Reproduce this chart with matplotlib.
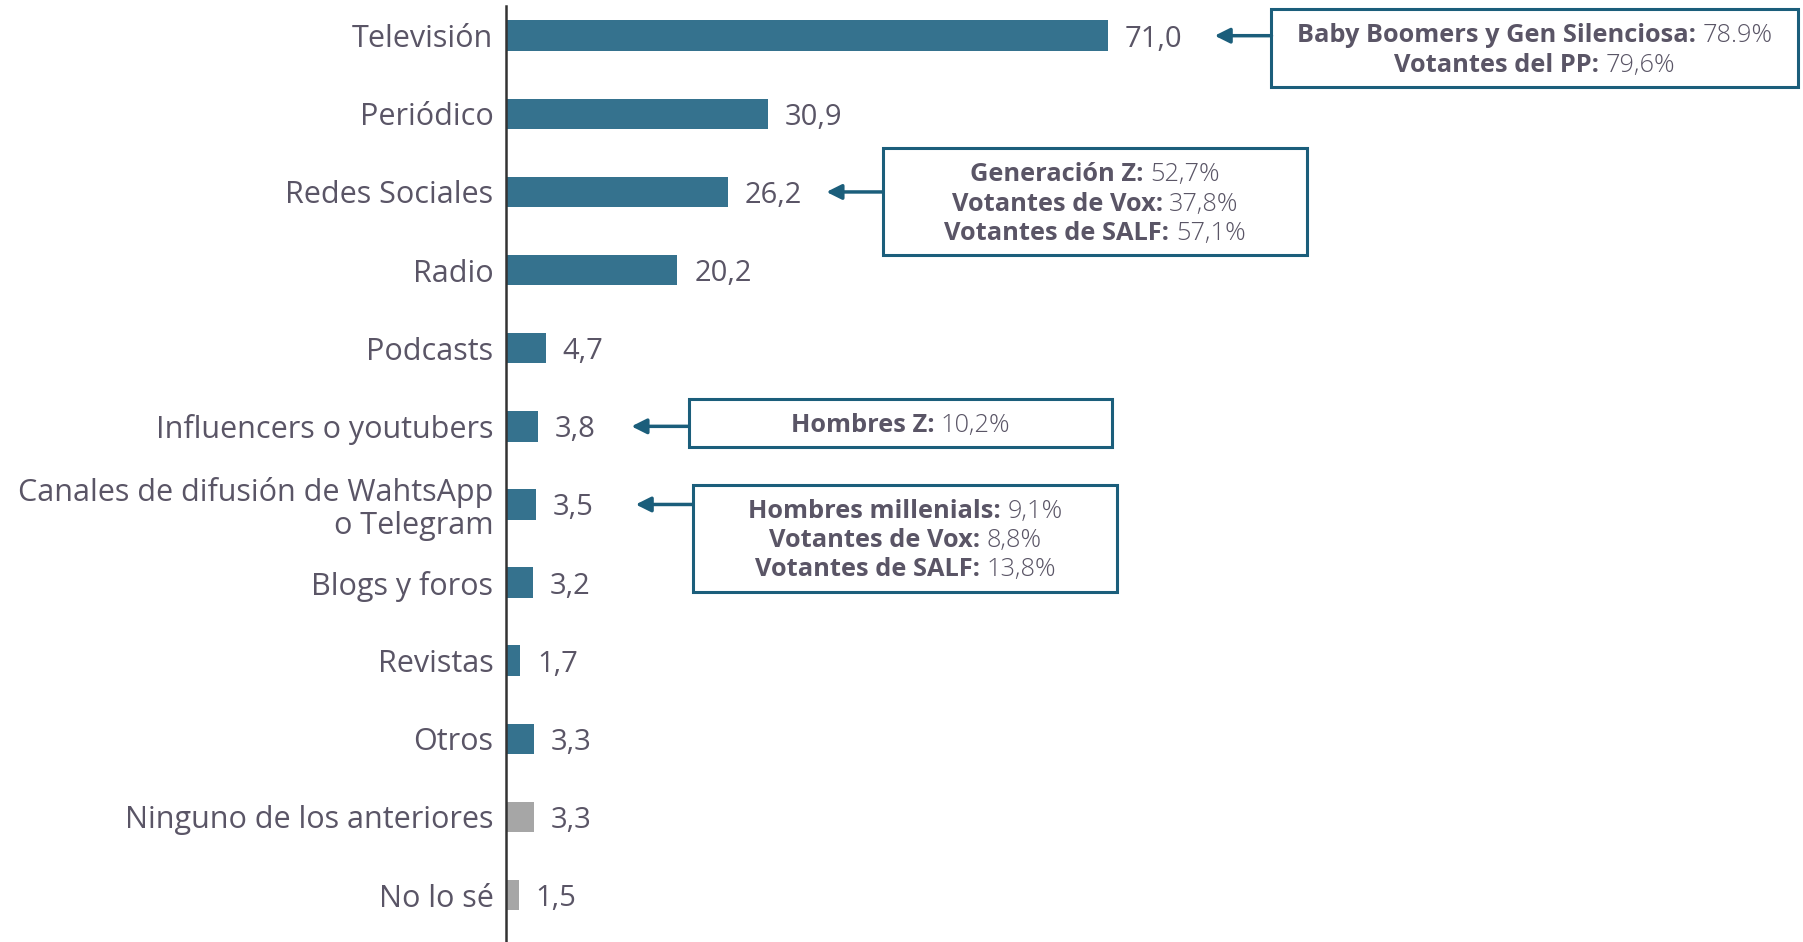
import matplotlib
matplotlib.use("Agg")
import matplotlib.pyplot as plt
from matplotlib.patches import Rectangle
from matplotlib.offsetbox import TextArea, HPacker, VPacker, AnnotationBbox

# ---------------- data ----------------
categories = ["Televisión", "Periódico", "Redes Sociales", "Radio", "Podcasts",
              "Influencers o youtubers", "Canales de difusión de WahtsApp\no Telegram",
              "Blogs y foros", "Revistas", "Otros", "Ninguno de los anteriores", "No lo sé"]
values = [71.0, 30.9, 26.2, 20.2, 4.7, 3.8, 3.5, 3.2, 1.7, 3.3, 3.3, 1.5]
is_grey = [False] * 10 + [True, True]

# callouts: (category index, list of (bold label, value text))
callout_targets = [0, 2, 5, 6]
callout_lines = [
    [("Baby Boomers y Gen Silenciosa:", "78.9%"), ("Votantes del PP:", "79,6%")],
    [("Generación Z:", "52,7%"), ("Votantes de Vox:", "37,8%"), ("Votantes de SALF:", "57,1%")],
    [("Hombres Z:", "10,2%")],
    [("Hombres millenials:", "9,1%"), ("Votantes de Vox:", "8,8%"), ("Votantes de SALF:", "13,8%")],
]

# ---------------- style ----------------
BAR = "#35728E"
GREY = "#A6A6A6"
DARK = "#1B5E7B"
TXT = "#5A5566"
FONT = "Open Sans"

# box geometry in data units: (x0, x1, y_top, y_bottom, arrow_tip_x)
box_geom = [
    (90.3, 152.4, -0.34, 0.66, 83.6),
    (44.5, 94.5, 1.44, 2.81, 37.8),
    (21.6, 71.5, 4.65, 5.27, 14.8),
    (22.1, 72.1, 5.75, 7.12, 15.3),
]

fig = plt.figure(figsize=(18.03, 9.42), dpi=100)
ax = fig.add_axes([506 / 1803, 0.0, 1 - 506 / 1803, 1 - 6 / 942])

ypos = list(range(len(categories)))
colors = [GREY if g else BAR for g in is_grey]
ax.barh(ypos, values, height=0.39, color=colors, zorder=2)

ax.set_xlim(0, 153)
ax.set_ylim(11.6, -0.38)
ax.set_yticks(ypos)
ax.set_yticklabels(categories, fontsize=22, color=TXT, family=FONT,
                   linespacing=1.12, va="center_baseline")
ax.tick_params(axis="y", length=0, pad=9)
ax.set_xticks([])
for s in ["top", "right", "bottom"]:
    ax.spines[s].set_visible(False)
ax.spines["left"].set_color("#333333")
ax.spines["left"].set_linewidth(1.8)

for y, v in zip(ypos, values):
    ax.text(v + 2.0, y, f"{v:.1f}".replace(".", ","), va="center_baseline", ha="left",
            fontsize=21, color=TXT, family=FONT)

for tgt, lines, (x0, x1, yt, yb, tip) in zip(callout_targets, callout_lines, box_geom):
    rect = Rectangle((x0, yt), x1 - x0, yb - yt, fill=False, edgecolor=DARK,
                     linewidth=2.2, clip_on=False, zorder=3)
    ax.add_patch(rect)
    ax.annotate("", xy=(tip, tgt), xytext=(x0, tgt),
                arrowprops=dict(arrowstyle="-|>,head_length=0.9,head_width=0.45",
                                color=DARK, lw=2.5, shrinkA=0, shrinkB=0),
                annotation_clip=False)
    rows = []
    for b, r in lines:
        ta = TextArea(b + " ", textprops=dict(fontsize=18.3, fontweight="bold",
                                              color=TXT, family=FONT))
        tb = TextArea(r, textprops=dict(fontsize=18.3, fontweight=300,
                                        color=TXT, family=FONT))
        rows.append(HPacker(children=[ta, tb], align="baseline", pad=0, sep=0))
    vp = VPacker(children=rows, align="center", pad=0, sep=3)
    ab = AnnotationBbox(vp, ((x0 + x1) / 2, (yt + yb) / 2 + 0.03), frameon=False,
                        box_alignment=(0.5, 0.5), annotation_clip=False)
    ax.add_artist(ab)

fig.savefig("out.png", dpi=100)
